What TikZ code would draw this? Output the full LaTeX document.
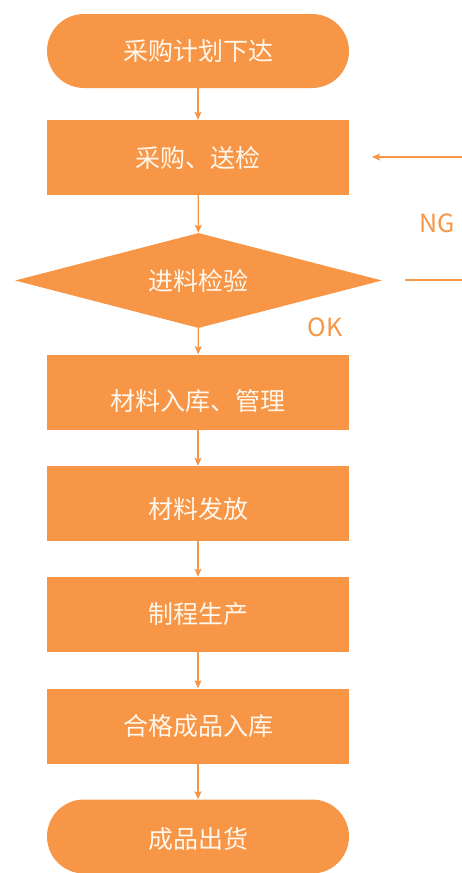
\documentclass[tikz,border=0pt]{standalone}
\usepackage{fontspec}
\setmainfont{Noto Sans CJK SC}
\usetikzlibrary{arrows.meta,shapes.geometric}
\definecolor{org}{HTML}{F79646}
\definecolor{txtc}{HTML}{FFF7EC}
\begin{document}
\begin{tikzpicture}[x=1pt,y=-1pt,
  box/.style={fill=org, minimum width=302pt, minimum height=75pt, inner sep=0pt},
  term/.style={box, rounded corners=37pt, minimum height=74pt},
  dec/.style={diamond, fill=org, minimum width=367pt, minimum height=95pt, aspect=3.86, inner sep=0pt},
  txt/.style={text=txtc, font=\fontsize{25}{28}\selectfont, inner sep=0pt},
  lbl/.style={text=org, font=\fontsize{25}{28}\selectfont, inner sep=0pt},
  arr/.style={draw=org, line width=1.3pt, -{Stealth[length=8pt,width=7pt,inset=1.5pt]}},
  ln/.style={draw=org, line width=1.3pt}]
\useasboundingbox (0,0) rectangle (462,873);

\node[term] (n1) at (198,51) {};
\node[txt] (t1) at (198,51.5) {采购计划下达};
\node[box] (n2) at (198,157.5) {};
\node[txt] (t2) at (198,158) {采购、送检};
\node[dec] (n3) at (198.5,280.5) {};
\node[txt] (t3) at (198,281) {进料检验};
\node[box] (n4) at (198,392) {};
\node[txt] (t4) at (198,401) {材料入库、管理};
\node[box] (n5) at (198,503.5) {};
\node[txt] (t5) at (198,509) {材料发放};
\node[box] (n6) at (198,614.5) {};
\node[txt] (t6) at (198,614) {制程生产};
\node[box] (n7) at (198,726) {};
\node[txt] (t7) at (198,726) {合格成品入库};
\node[term] (n8) at (198,836.5) {};
\node[txt] (t8) at (198,839) {成品出货};

\draw[arr] (n1) -- (n2);
\draw[arr] (n2) -- (n3);
\draw[arr] (n3) -- (n4);
\draw[arr] (n4) -- (n5);
\draw[arr] (n5) -- (n6);
\draw[arr] (n6) -- (n7);
\draw[arr] (n7) -- (n8);

\coordinate (ngA) at (462,157);
\coordinate (ngB) at (372,157);
\draw[arr] (ngA) -- (ngB);
\coordinate (ngC) at (405,280);
\coordinate (ngD) at (462,280);
\draw[ln] (ngC) -- (ngD);

\node[lbl] (ng) at (437,223) {NG};
\node[lbl] (ok) at (325,327) {OK};
\end{tikzpicture}
\end{document}
